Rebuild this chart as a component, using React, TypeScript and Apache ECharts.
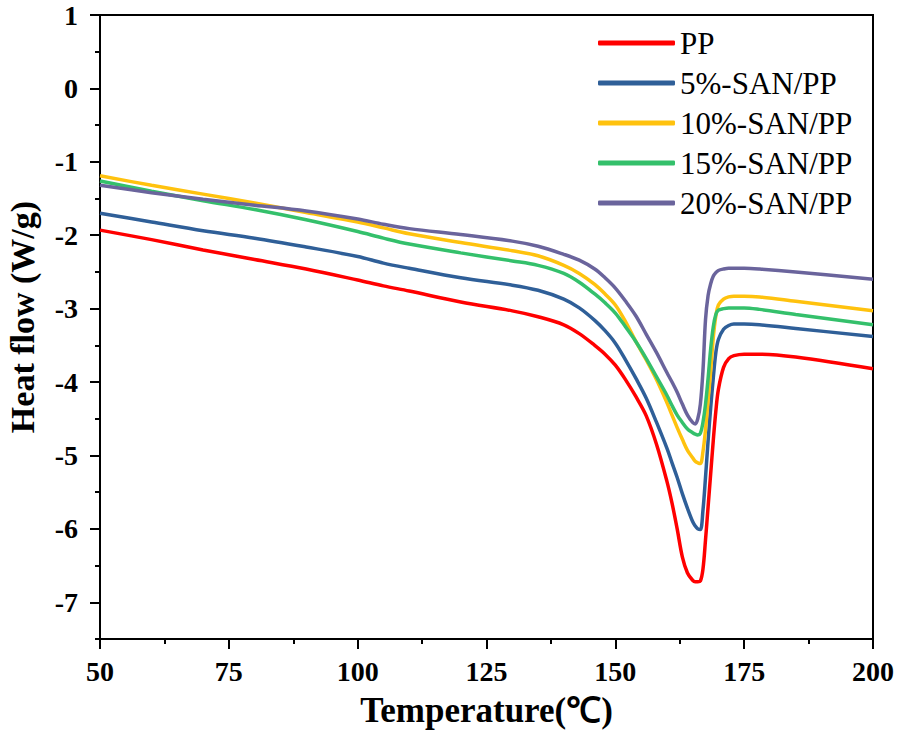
import React, { useEffect, useRef } from "react";
import * as echarts from "echarts";

const temperature = [50, 60, 70, 80, 90, 100, 105, 110, 120, 130, 135, 140, 143, 146, 148, 150, 152, 154, 156, 158, 160, 161, 162, 163, 164, 165, 165.5, 166, 166.5, 167, 167.5, 168, 168.5, 169, 169.5, 170, 171, 172, 173, 175, 178, 185, 200];

const pp = [-1.93, -2.06, -2.2, -2.33, -2.46, -2.61, -2.69, -2.76, -2.91, -3.03, -3.11, -3.22, -3.34, -3.5, -3.62, -3.77, -3.97, -4.2, -4.46, -4.85, -5.35, -5.65, -6.0, -6.38, -6.6, -6.7, -6.72, -6.72, -6.71, -6.55, -6.15, -5.7, -5.25, -4.8, -4.4, -4.1, -3.8, -3.68, -3.64, -3.62, -3.62, -3.66, -3.82];
const san5 = [-1.7, -1.82, -1.94, -2.04, -2.16, -2.29, -2.38, -2.45, -2.58, -2.68, -2.75, -2.87, -2.99, -3.16, -3.3, -3.47, -3.7, -3.95, -4.22, -4.55, -4.9, -5.1, -5.3, -5.52, -5.72, -5.9, -5.96, -6.0, -6.01, -5.75, -5.3, -4.8, -4.35, -3.95, -3.6, -3.42, -3.28, -3.23, -3.21, -3.21, -3.22, -3.27, -3.38];
const san10 = [-1.19, -1.32, -1.44, -1.56, -1.69, -1.82, -1.9, -1.98, -2.1, -2.21, -2.28, -2.41, -2.52, -2.67, -2.8, -2.95, -3.18, -3.45, -3.7, -3.97, -4.28, -4.45, -4.62, -4.78, -4.93, -5.03, -5.08, -5.1, -5.11, -4.95, -4.65, -4.25, -3.85, -3.4, -3.1, -2.95, -2.87, -2.84, -2.83, -2.83, -2.84, -2.9, -3.03];
const san15 = [-1.26, -1.4, -1.53, -1.65, -1.79, -1.95, -2.04, -2.12, -2.24, -2.35, -2.41, -2.52, -2.64, -2.8, -2.92, -3.06, -3.25, -3.45, -3.68, -3.93, -4.18, -4.32, -4.45, -4.55, -4.64, -4.69, -4.71, -4.72, -4.7, -4.55, -4.3, -3.95, -3.55, -3.25, -3.08, -3.02, -3.0, -2.99, -2.99, -2.99, -3.01, -3.08, -3.22];
const san20 = [-1.32, -1.42, -1.51, -1.59, -1.67, -1.78, -1.85, -1.91, -1.99, -2.08, -2.15, -2.26, -2.34, -2.46, -2.58, -2.72, -2.9, -3.1, -3.35, -3.6, -3.87, -4.0, -4.14, -4.3, -4.45, -4.55, -4.57, -4.5, -4.3, -3.85, -3.15, -2.82, -2.66, -2.56, -2.51, -2.48, -2.46, -2.45, -2.45, -2.45, -2.46, -2.5, -2.6];

const seriesNames = ["PP", "5%-SAN/PP", "10%-SAN/PP", "15%-SAN/PP", "20%-SAN/PP"];
const seriesValues = [pp, san5, san10, san15, san20];
const seriesColors = ["#ff0000", "#2f5f98", "#ffc20e", "#34c06b", "#6a649c"];
const yTickValues = [1, 0, -1, -2, -3, -4, -5, -6, -7];

const FONT = '"Times New Roman", "Liberation Serif", serif';

export default function App() {
  const ref = useRef<HTMLDivElement>(null);
  useEffect(() => {
    if (!ref.current) return;
    const chart = echarts.init(ref.current, null, { renderer: "svg" });
    chart.setOption({
      animation: false,
      backgroundColor: "#ffffff",
      grid: {
        left: 100,
        right: 25,
        top: 15,
        bottom: 99,
        show: true,
        borderColor: "#000",
        borderWidth: 2,
        containLabel: false,
        outerBoundsMode: "none",
      },
      legend: {
        orient: "vertical",
        left: 598,
        top: 27,
        icon: "roundRect",
        itemWidth: 77,
        itemHeight: 5,
        itemGap: 8,
        padding: 0,
        data: seriesNames,
        textStyle: { fontFamily: FONT, fontSize: 31, color: "#000", lineHeight: 32 },
      },
      xAxis: {
        type: "value",
        min: 50,
        max: 200,
        interval: 25,
        name: "Temperature(℃)",
        nameLocation: "middle",
        nameGap: 54,
        nameTextStyle: { fontFamily: FONT, fontSize: 35, fontWeight: "bold", color: "#000" },
        axisLine: { show: true, onZero: false, lineStyle: { color: "#000", width: 2 } },
        axisTick: { show: true, inside: false, length: 10, lineStyle: { color: "#000", width: 2 } },
        minorTick: { show: true, splitNumber: 2, length: 5, lineStyle: { color: "#000", width: 2 } },
        axisLabel: { fontFamily: FONT, fontSize: 28, fontWeight: "bold", color: "#000", margin: 18 },
        splitLine: { show: false },
      },
      yAxis: [
        {
          type: "value",
          min: -7.5,
          max: 1,
          interval: 0.5,
          position: "left",
          axisLine: { show: true, onZero: false, lineStyle: { color: "#000", width: 2 } },
          axisTick: { show: true, inside: false, length: 5, lineStyle: { color: "#000", width: 2 } },
          axisLabel: { show: false },
          splitLine: { show: false },
        },
        {
          type: "value",
          min: -7.5,
          max: 1,
          interval: 0.5,
          position: "left",
          name: "Heat flow (W/g)",
          nameLocation: "middle",
          nameGap: 61,
          nameTextStyle: { fontFamily: FONT, fontSize: 34, fontWeight: "bold", color: "#000", padding: [0, 0, 0, 20] },
          axisLine: { show: false },
          axisTick: { show: true, inside: false, length: 10, customValues: yTickValues, lineStyle: { color: "#000", width: 2 } },
          axisLabel: { show: true, customValues: yTickValues, fontFamily: FONT, fontSize: 28, fontWeight: "bold", color: "#000", margin: 22 },
          splitLine: { show: false },
        },
      ],
      series: seriesNames.map((name, i) => ({
        name,
        type: "line",
        yAxisIndex: 0,
        symbol: "none",
        smooth: 0.35,
        color: seriesColors[i],
        lineStyle: { color: seriesColors[i], width: 3.5 },
        data: temperature.map((t, j) => [t, seriesValues[i][j]]),
      })),
    });
    return () => chart.dispose();
  }, []);
  return <div ref={ref} style={{ position: "fixed", left: 0, top: 0, width: 898, height: 738 }} />;
}
